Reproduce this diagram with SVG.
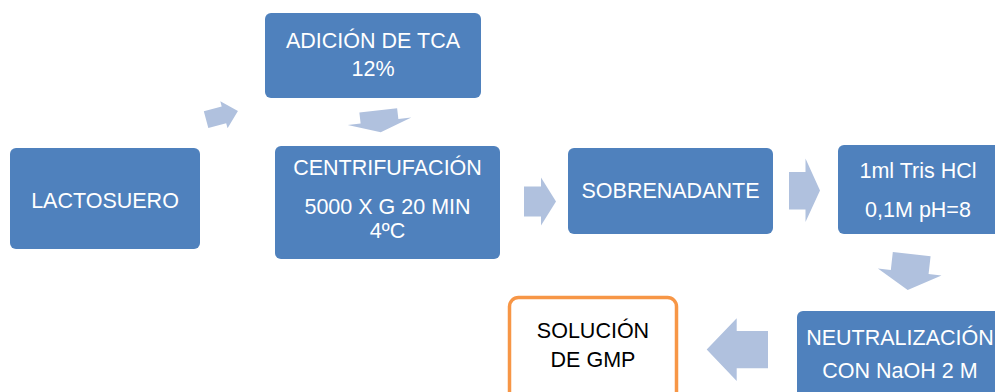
<svg xmlns="http://www.w3.org/2000/svg" width="995" height="392" viewBox="0 0 995 392">
<style>
.box{fill:#4F81BD;}
.out{fill:#FFFFFF;stroke:#F79646;stroke-width:3.5;}
.t{font-family:"Liberation Sans",Arial,sans-serif;font-size:21.5px;fill:#FFFFFF;text-anchor:middle;}
.k{fill:#000000;}
.arr{fill:#B0C1DE;}
</style>
<rect width="995" height="392" fill="#FFFFFF"/>
<g id="connectors">
<polygon class="arr" transform="translate(222,115.3) rotate(-15)" points="-16.5,-8.7 2,-8.7 2,-14 16.5,0 2,14 2,8.7 -16.5,8.7"/>
<polygon class="arr" transform="translate(379.5,121.3) rotate(83.4)" points="-11,-19 0,-19 0,-32 11,0 0,32 0,19 -11,19"/>
<polygon class="arr" points="524,186.5 541,186.5 541,177.5 556,201.5 541,225.5 541,216.5 524,216.5"/>
<polygon class="arr" points="789,172 805.5,172 805.5,158.5 820,190.5 805.5,222 805.5,209.5 789,209.5"/>
<polygon class="arr" transform="translate(909.7,272) rotate(96.4)" points="-18,-19 0,-19 0,-32 18,0 0,32 0,19 -18,19"/>
<polygon class="arr" points="768,331 736.7,331 736.7,318.3 706.7,349.6 736.7,381 736.7,368.3 768,368.3"/>
</g>
<g id="lactosuero">
<rect class="box" x="10" y="148" width="190" height="101" rx="6"/>
<text class="t" x="105" y="208">LACTOSUERO</text>
</g>
<g id="adicion">
<rect class="box" x="265" y="13" width="216" height="85" rx="6"/>
<text class="t" x="373" y="48">ADICIÓN DE TCA</text>
<text class="t" x="373" y="76">12%</text>
</g>
<g id="centrifugacion">
<rect class="box" x="275" y="146" width="225" height="113" rx="6"/>
<text class="t" x="387.5" y="175">CENTRIFUFACIÓN</text>
<text class="t" x="387.5" y="214">5000 X G 20 MIN</text>
<text class="t" x="387.5" y="238">4ºC</text>
</g>
<g id="sobrenadante">
<rect class="box" x="568" y="148" width="205" height="86" rx="6"/>
<text class="t" x="670.5" y="198">SOBRENADANTE</text>
</g>
<g id="tris">
<rect class="box" x="838" y="145" width="162" height="89" rx="6"/>
<text class="t" x="918" y="177.5">1ml Tris HCl</text>
<text class="t" x="918" y="217">0,1M pH=8</text>
</g>
<g id="neutralizacion">
<rect class="box" x="797" y="311" width="206" height="100" rx="6"/>
<text class="t" x="900" y="345">NEUTRALIZACIÓN</text>
<text class="t" x="900" y="378">CON NaOH 2 M</text>
</g>
<g id="solucion">
<rect class="out" x="509.5" y="297.5" width="167" height="110" rx="9"/>
<text class="t k" x="593" y="338">SOLUCIÓN</text>
<text class="t k" x="593" y="367">DE GMP</text>
</g>
</svg>
